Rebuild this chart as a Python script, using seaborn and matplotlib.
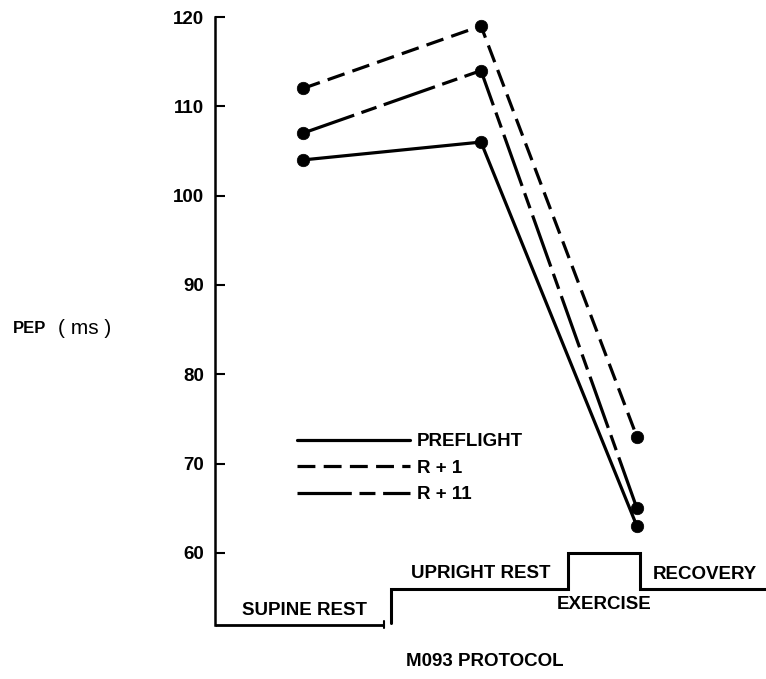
import numpy as np
import pandas as pd
import matplotlib
matplotlib.use("Agg")
import matplotlib.pyplot as plt
from matplotlib.lines import Line2D
import seaborn as sns

# PEP (ms) at each stage of the M093 protocol
stage_x = [1.0, 2.0, 2.876]
preflight = [104, 106, 63]
r_plus_1 = [112, 119, 73]
r_plus_11 = [107, 114, 65]
series_names = ["PREFLIGHT", "R + 1", "R + 11"]
y_ticks = [60, 70, 80, 90, 100, 110, 120]

# protocol diagram under the data (x breakpoints, level)
baseline_x = [0.506, 1.455]
step_x = [1.494, 1.494, 2.489, 2.489, 2.893, 2.893, 3.601]
step_y = [52.15, 56, 56, 60, 60, 56, 56]
phase_labels = ["SUPINE REST", "UPRIGHT REST", "EXERCISE", "RECOVERY"]
phase_label_x = [1.011, 2.0, 2.691, 3.258]
phase_label_y = [53.6, 57.76, 54.2, 57.6]

sns.set_style("white")
plt.rcParams["font.family"] = ["Liberation Sans", "DejaVu Sans"]
plt.rcParams["font.weight"] = "bold"
for key in ["text.color", "axes.labelcolor", "xtick.color", "ytick.color",
            "axes.edgecolor"]:
    plt.rcParams[key] = "black"

fig = plt.figure(figsize=(7.66, 6.79), dpi=100)
ax = fig.add_axes([215 / 766, 54 / 679, 1 - 215 / 766, 608 / 679])

df = pd.DataFrame({
    "stage": stage_x * 3,
    "PEP": preflight + r_plus_1 + r_plus_11,
    "condition": np.repeat(series_names, len(stage_x)),
})

dash_styles = {
    "PREFLIGHT": "",
    "R + 1": (5.6, 2.6),
    "R + 11": (17, 2.4, 5, 2.4),
}

sns.lineplot(
    data=df, x="stage", y="PEP", hue="condition", style="condition",
    palette={n: "black" for n in series_names},
    dashes=dash_styles,
    markers={n: "o" for n in series_names},
    markersize=9, markeredgecolor="black", markeredgewidth=0.5,
    linewidth=2.3, sort=False, legend=False, ax=ax,
)

ax.set_xlim(0.506, 3.601)
ax.set_ylim(51.94, 120)
ax.set_yticks(y_ticks)
ax.set_yticklabels([str(t) for t in y_ticks])
ax.set_xticks([])
ax.set_xlabel("")
ax.set_ylabel("")
ax.tick_params(axis="y", direction="in", length=7, width=1.5, pad=8,
               labelsize=13.5, left=True, colors="black")
for lbl in ax.get_yticklabels():
    lbl.set_fontweight("bold")
for side in ["top", "right", "bottom"]:
    ax.spines[side].set_visible(False)
ax.spines["left"].set_linewidth(1.8)
ax.spines["left"].set_color("black")

# protocol trace
ax.plot(baseline_x, [51.94, 51.94], color="black", lw=2.0, clip_on=False,
        solid_capstyle="butt")
ax.plot([baseline_x[1], baseline_x[1]], [51.6, 52.35], color="black",
        lw=1.5, clip_on=False)
ax.plot(step_x, step_y, color="black", lw=2.2, clip_on=False,
        solid_joinstyle="miter")
for lbl, x, y in zip(phase_labels, phase_label_x, phase_label_y):
    ax.text(x, y, lbl, ha="center", va="center", fontsize=13.5,
            fontweight="bold", color="black", clip_on=False)
ax.text(2.022, 47.9, "M093 PROTOCOL", ha="center", va="center",
        fontsize=13.5, fontweight="bold", color="black", clip_on=False)

# y label
fig.text(13 / 766, 1 - 328 / 679, "PEP", ha="left", va="center",
         fontsize=12, fontweight="bold", color="black")
fig.text(58 / 766, 1 - 328 / 679, "( ms )", ha="left", va="center",
         fontsize=15, fontweight="normal", color="black")

handles = [
    Line2D([], [], color="black", lw=2.3, linestyle="-"),
    Line2D([], [], color="black", lw=2.3, dashes=dash_styles["R + 1"]),
    Line2D([], [], color="black", lw=2.3, dashes=dash_styles["R + 11"]),
]
leg = ax.legend(handles, series_names, loc="upper left",
                bbox_to_anchor=(297 / 766, 1 - 433 / 679),
                bbox_transform=fig.transFigure, frameon=False,
                borderpad=0, borderaxespad=0, handlelength=6.0,
                handletextpad=0.4, labelspacing=0.5,
                prop={"size": 13.5, "weight": "bold"})
for t in leg.get_texts():
    t.set_color("black")

fig.savefig("out.png", dpi=100)
